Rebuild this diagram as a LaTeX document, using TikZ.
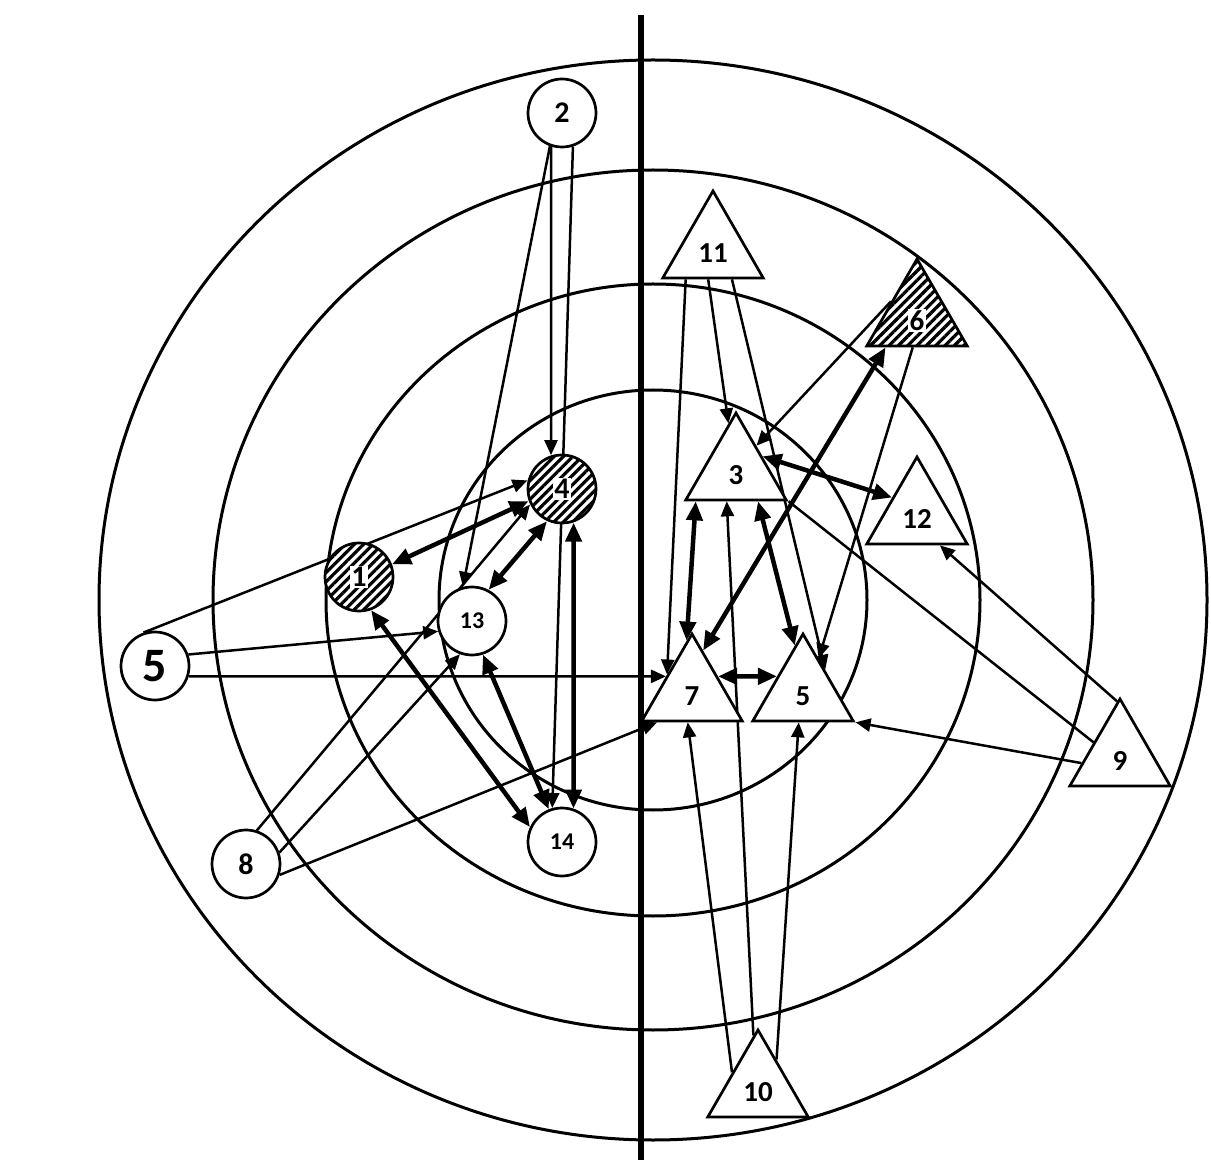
\documentclass[tikz,border=0pt]{standalone}
\usepackage{fontspec}
\setmainfont{Carlito}
\usetikzlibrary{arrows.meta,patterns.meta,shapes.geometric}
\pgfdeclarelayer{back}
\pgfsetlayers{back,main}
\newcommand{\whitelab}[1]{{\setlength{\fboxsep}{0.6pt}\colorbox{white}{#1}}}

\begin{document}
\begin{tikzpicture}[x=0.5pt,y=-0.5pt,
  ring/.style={line width=1.5pt},
  circnode/.style={circle,draw,line width=1.35pt,minimum size=34pt,inner sep=0pt,
    preaction={fill=white},font=\bfseries\fontsize{15}{17}\selectfont},
  trinode/.style={regular polygon,regular polygon sides=3,draw,line width=1.35pt,
    minimum size=58pt,inner sep=0pt,preaction={fill=white},
    text height=13.2pt,text depth=0pt,
    font=\bfseries\fontsize{14.5}{16}\selectfont},
  smalllab/.style={font=\bfseries\fontsize{12}{14}\selectfont},
  biglab/.style={font=\bfseries\fontsize{24}{26}\selectfont},
  hatched/.style={pattern={Lines[angle=45,distance=3.3pt,line width=1.6pt]}},
  link/.style={line width=1.25pt,-{Triangle[length=7.5pt,width=6.5pt]}},
  duplex/.style={line width=2.25pt,
    {Triangle[length=9.5pt,width=8pt]}-{Triangle[length=9.5pt,width=8pt]}}]
  \useasboundingbox (0,0) rectangle (1211,1160);

  % left group: circles
  \node[circnode] (c2) at (562,113) {2};
  \node[circnode,hatched] (c4) at (562,489) {\whitelab{4}};
  \node[circnode,hatched] (c1) at (359,577) {\whitelab{1}};
  \node[circnode,smalllab] (c13) at (472,621) {13};
  \node[circnode,biglab] (c5) at (155,666) {5};
  \node[circnode] (c8) at (246,864) {8};
  \node[circnode,smalllab] (c14) at (562,842) {14};

  % right group: triangles
  \node[trinode] (t11) at (713,249) {11};
  \node[trinode,hatched] (t6) at (917,317) {\whitelab{6}};
  \node[trinode] (t3) at (736,471) {3};
  \node[trinode] (t12) at (917,515) {12};
  \node[trinode] (t7) at (692,692) {7};
  \node[trinode] (t5) at (803,692) {5};
  \node[trinode] (t9) at (1120,757) {9};
  \node[trinode] (t10) at (758,1088) {10};

  \begin{pgfonlayer}{back}
    \foreach \rx/\ry in {554/540,440/430,327/316,214/210}
      \draw[ring] (653,600) ellipse [x radius=\rx,y radius=\ry];
    \draw[line width=3pt] (641,15) -- (641,1160);

    \foreach \a/\b in {c2.252/c4.108, c2.288/c14.106, c2.250/c13.105,
        c5.109/c4.166, c8.72/c4.206, c8.19/c13.250, c8.342/t7.221,
        c5.19/c13.197, c5.343/t7.149,
        t11.228/t7.145, t11.261/t3.99, t11.302/t5.45,
        t6.149/t3.51, t6.262/t5.65, t10.95/t3.253,
        t9.93/t12.307, t9.189/t5.corner 3,
        t10.149/t7.262, t10.57/t5.262}
      \draw[link] (\a) -- (\b);

    \foreach \a/\b in {c1.21/c4.200, c13.62/c4.245, c1.290/c14.155,
        c13.288/c14.112, c4.289/c14.71,
        t7.75/t6.224, t3.29/t12.145, t3.217/t7.96, t3.306/t5.100,
        t7.31/t5.149}
      \draw[duplex] (\a) -- (\b);

    \draw[line width=1.25pt] (t9.151) -- (t3.corner 3);
  \end{pgfonlayer}
\end{tikzpicture}
\end{document}
